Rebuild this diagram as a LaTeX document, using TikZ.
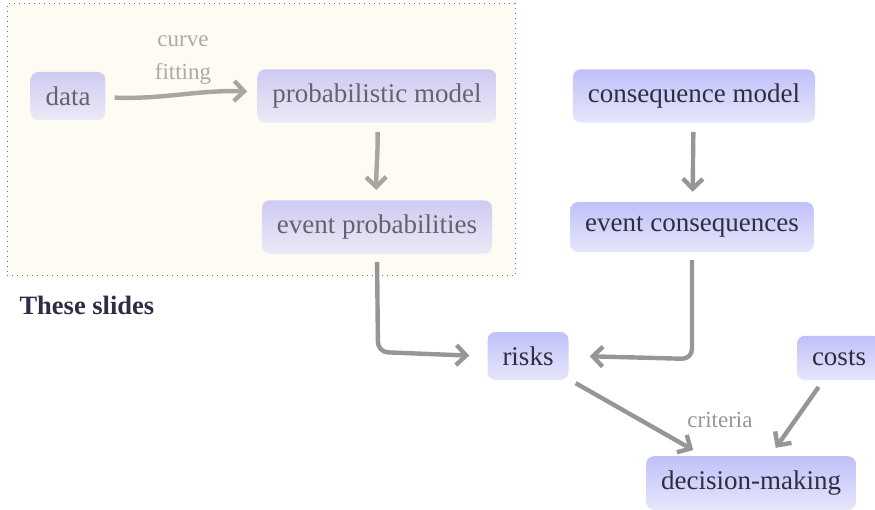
\documentclass[tikz,border=0pt]{standalone}
\usepackage{fontspec}
\setmainfont{Liberation Serif}
\usetikzlibrary{arrows.meta}
\definecolor{ntop}{RGB}{192,192,250}
\definecolor{nbot}{RGB}{230,230,251}
\definecolor{ftop}{RGB}{206,203,242}
\definecolor{fbot}{RGB}{236,233,246}
\definecolor{ntext}{RGB}{46,46,62}
\definecolor{ftext}{RGB}{100,100,104}
\definecolor{cream}{RGB}{254,251,243}
\definecolor{arr}{RGB}{150,150,150}
\definecolor{farr}{RGB}{168,166,158}
\definecolor{lbl}{RGB}{150,150,150}
\definecolor{flbl}{RGB}{172,170,164}
\definecolor{hdr}{RGB}{45,45,68}
\tikzset{
  box/.style={rectangle, rounded corners=8pt, top color=ntop, bottom color=nbot, draw=none,
    text=ntext, inner xsep=15pt, inner ysep=14.5pt, font=\fontsize{27}{30}\selectfont},
  fbox/.style={box, top color=ftop, bottom color=fbot, text=ftext},
  conn/.style={draw=arr, line width=4.4pt, -{Straight Barb[length=10pt,width=20pt]}, shorten <=9pt, shorten >=10pt},
  fconn/.style={conn, draw=farr},
  lab/.style={text=lbl, font=\fontsize{23}{31}\selectfont},
}
\begin{document}
\begin{tikzpicture}[x=1pt,y=-1pt]
\useasboundingbox (0,0) rectangle (875,510);
\clip (0,0) rectangle (875,510);
% region
\node[draw=black!55, dash pattern=on 1pt off 4pt, line width=1pt, fill=cream, minimum width=508pt, minimum height=272pt, inner sep=0pt] (region) at (261,140) {};
% nodes
\node[fbox] (data) at (68,96) {data};
\node[fbox] (pm) at (377,96) {probabilistic model};
\node[fbox] (ep) at (377,227) {event probabilities};
\node[box] (cm) at (694,96) {consequence model};
\node[box] (ec) at (692,227) {event consequences};
\node[box] (risks) at (528,356) {risks};
\node[box] (costs) at (839,358) {costs};
\node[box] (dm) at (751,483) {decision-making};
\node[anchor=west, text=hdr, font=\fontsize{26.5}{30}\selectfont\bfseries] (hdr) at (16,305) {These slides};
% labels
\node[lab, text=flbl, align=center] (cf) at (183,60) {curve\\[2pt]fitting};
\node[lab] (cr) at (720,420) {criteria};
% connectors
\draw[fconn] (data) to[out=-2,in=178] (pm);
\draw[fconn] (pm) to[out=-89,in=91] (ep);
\draw[conn] (cm) to[out=-91,in=89] (ec);
\draw[conn, rounded corners=10pt, shorten <=8pt] (ep.south) -- ([xshift=1pt,yshift=4pt]ep.south |- risks.west) -- ([xshift=-8pt]risks.west);
\draw[conn, rounded corners=10pt, shorten <=8pt] (ec.south) -- ([yshift=-3pt]ec.south |- risks.east) -- ([xshift=11pt]risks.east);
\draw[conn, shorten <=8pt, shorten >=12pt] (risks) -- (dm);
\draw[conn, shorten <=8pt, shorten >=10pt] (costs) -- (dm);
\end{tikzpicture}
\end{document}
